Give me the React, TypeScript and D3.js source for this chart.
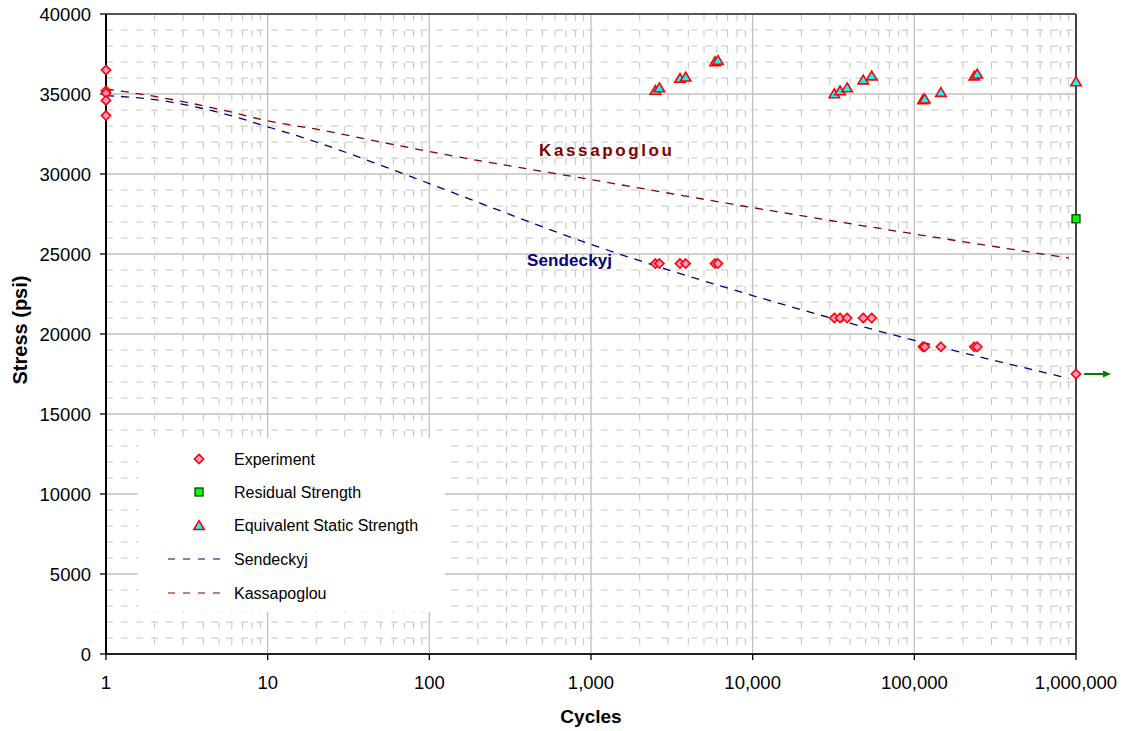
import React from "react";
import * as d3 from "d3";

// Fatigue test results: cycles to failure vs. max stress
const expCycles = [1, 1, 1, 1, 1, 2500, 2650, 3550, 3850, 5850, 6100, 32000, 34700, 38400, 48300, 54500, 113000, 116000, 146000, 235000, 245000, 1000000];
const expStress = [36500, 35200, 35050, 34600, 33650, 24400, 24400, 24400, 24400, 24400, 24400, 21000, 21000, 21000, 21000, 21000, 19200, 19200, 19200, 19200, 19200, 17500];

const residualCycles = [1000000];
const residualStress = [27200];

const staticCycles = [2500, 2650, 3550, 3850, 5850, 6100, 32000, 34700, 38400, 48300, 54500, 113000, 116000, 146000, 235000, 245000, 1000000];
const staticStress = [35230, 35390, 35980, 36060, 37020, 37100, 35020, 35200, 35390, 35880, 36130, 34650, 34690, 35100, 36130, 36250, 35770];

// Model curves
const modelCycles = [1, 2, 5, 10, 20, 50, 100, 1000, 10000, 100000, 900000];
const sendeckyjStress = [34900, 34650, 33850, 32950, 32000, 30550, 29400, 25600, 22400, 19600, 17230];
const kassapoglouStress = [35320, 34850, 34050, 33320, 32800, 32000, 31400, 29650, 27900, 26250, 24750];

const xTickValues = [1, 10, 100, 1000, 10000, 100000, 1000000];
const yTickValues = [0, 5000, 10000, 15000, 20000, 25000, 30000, 35000, 40000];

const legendItems = ["Experiment", "Residual Strength", "Equivalent Static Strength", "Sendeckyj", "Kassapoglou"];

const FONT = "'Liberation Sans', Arial, sans-serif";

const W = 1125;
const H = 731;
const M = { left: 106, right: 1076, top: 14, bottom: 654 };

const x = d3.scaleLog().domain([1, 1e6]).range([M.left, M.right]);
const y = d3.scaleLinear().domain([0, 40000]).range([M.bottom, M.top]);

const diamond = (r: number) => `M0,${-r}L${r},0L0,${r}L${-r},0Z`;
const triangle = "M0,-4.8L5.2,4L-5.2,4Z";

const Diamond = ({ cx, cy }: { cx: number; cy: number }) => (
  <path d={diamond(4.6)} transform={`translate(${cx},${cy})`} fill="#ff99cc" stroke="#ff0000" strokeWidth={1.6} />
);
const Triangle = ({ cx, cy }: { cx: number; cy: number }) => (
  <path d={triangle} transform={`translate(${cx},${cy})`} fill="#00ffff" stroke="#ff0000" strokeWidth={1.6} strokeLinejoin="miter" />
);
const Square = ({ cx, cy }: { cx: number; cy: number }) => (
  <rect x={cx - 4} y={cy - 4} width={8} height={8} fill="#00ff00" stroke="#003300" strokeWidth={1.2} />
);

export default function App() {
  // minor vertical grid: 2..9 in each decade
  const minorX: number[] = [];
  for (let d = 0; d < 6; d++) for (let k = 2; k <= 9; k++) minorX.push(k * Math.pow(10, d));
  const minorY = d3.range(1000, 40000, 1000).filter((v) => v % 5000 !== 0);

  const line = d3
    .line<[number, number]>()
    .x((d) => x(d[0]))
    .y((d) => y(d[1]))
    .curve(d3.curveMonotoneX);

  const sendPts = modelCycles.map((c, i) => [c, sendeckyjStress[i]] as [number, number]);
  const kassPts = modelCycles.map((c, i) => [c, kassapoglouStress[i]] as [number, number]);

  const fmt = d3.format(",");

  const runout = { cx: x(1e6), cy: y(expStress[expStress.length - 1]) };

  const legendX = 199;
  const legendRows = [459, 492, 525, 559, 593];

  return (
    <svg width={W} height={H} style={{ position: "absolute", left: 0, top: 0, background: "#fff" }} fontFamily={FONT}>
      {/* minor grid */}
      <g stroke="#c4c4c4" strokeWidth={1}>
        {minorY.map((v) => (
          <line key={"my" + v} x1={M.left} x2={M.right} y1={y(v)} y2={y(v)} strokeDasharray="7,8" />
        ))}
        {minorX.map((v) => (
          <line key={"mx" + v} x1={x(v)} x2={x(v)} y1={M.top} y2={M.bottom} strokeDasharray="7,9" />
        ))}
      </g>
      {/* major grid */}
      <g stroke="#c0c0c0" strokeWidth={1.3}>
        {yTickValues.map((v) => (
          <line key={"gy" + v} x1={M.left} x2={M.right} y1={y(v)} y2={y(v)} />
        ))}
        {xTickValues.map((v) => (
          <line key={"gx" + v} x1={x(v)} x2={x(v)} y1={M.top} y2={M.bottom} />
        ))}
      </g>

      {/* legend */}
      <rect x={138} y={438} width={307} height={174} fill="#fff" />
      <g fontSize={16} fill="#000">
        <Diamond cx={legendX} cy={legendRows[0]} />
        <Square cx={legendX} cy={legendRows[1]} />
        <Triangle cx={legendX} cy={legendRows[2] + 0.5} />
        <line x1={168} x2={224} y1={legendRows[3]} y2={legendRows[3]} stroke="#000080" strokeWidth={1.2} strokeDasharray="7,8" />
        <line x1={168} x2={224} y1={legendRows[4]} y2={legendRows[4]} stroke="#800000" strokeWidth={1.2} strokeDasharray="7,8" />
        {legendItems.map((t, i) => (
          <text key={t} x={234} y={legendRows[i] + 5.5}>
            {t}
          </text>
        ))}
      </g>

      {/* model curves */}
      <path d={line(kassPts) ?? ""} fill="none" stroke="#800000" strokeWidth={1.3} strokeDasharray="8,7" />
      <path d={line(sendPts) ?? ""} fill="none" stroke="#000080" strokeWidth={1.3} strokeDasharray="8,7" />

      {/* curve labels */}
      <text x={539} y={156} fontSize={17} fontWeight="bold" fill="#800000" textLength={133} lengthAdjust="spacing">
        Kassapoglou
      </text>
      <text x={527} y={266} fontSize={17} fontWeight="bold" fill="#000080" textLength={85} lengthAdjust="spacing">
        Sendeckyj
      </text>

      {/* axes frame */}
      <line x1={M.left} x2={M.right} y1={M.top} y2={M.top} stroke="#555" strokeWidth={2} />
      <line x1={M.right} x2={M.right} y1={M.top} y2={M.bottom} stroke="#444" strokeWidth={2} />
      <line x1={M.left} x2={M.left} y1={M.top} y2={M.bottom + 1} stroke="#000" strokeWidth={2} />
      <line x1={M.left - 1} x2={M.right} y1={M.bottom} y2={M.bottom} stroke="#222" strokeWidth={2} />

      {/* ticks */}
      <g stroke="#000" strokeWidth={1.3}>
        {yTickValues.map((v) => (
          <line key={"ty" + v} x1={M.left - 6} x2={M.left} y1={y(v)} y2={y(v)} />
        ))}
        {xTickValues.map((v) => (
          <line key={"tx" + v} x1={x(v)} x2={x(v)} y1={M.bottom} y2={M.bottom + 6} />
        ))}
      </g>
      <g fontSize={18.5} fill="#000">
        {yTickValues.map((v) => (
          <text key={"ly" + v} x={91} y={y(v) + 6.6} textAnchor="end">
            {v}
          </text>
        ))}
        {xTickValues.map((v) => (
          <text key={"lx" + v} x={x(v)} y={689} textAnchor="middle">
            {fmt(v)}
          </text>
        ))}
      </g>

      {/* axis titles */}
      <text x={591} y={723} textAnchor="middle" fontSize={19} fontWeight="bold">
        Cycles
      </text>
      <text transform="translate(27,330) rotate(-90)" textAnchor="middle" fontSize={20} fontWeight="bold">
        Stress (psi)
      </text>

      {/* run-out arrow */}
      <line x1={runout.cx + 8} x2={runout.cx + 28} y1={runout.cy} y2={runout.cy} stroke="#008000" strokeWidth={2} />
      <path d={`M${runout.cx + 35},${runout.cy}L${runout.cx + 27},${runout.cy - 3.5}L${runout.cx + 27},${runout.cy + 3.5}Z`} fill="#008000" />

      {/* data markers */}
      {staticCycles.map((c, i) => (
        <Triangle key={"s" + i} cx={x(c)} cy={y(staticStress[i])} />
      ))}
      {residualCycles.map((c, i) => (
        <Square key={"r" + i} cx={x(c)} cy={y(residualStress[i])} />
      ))}
      {expCycles.map((c, i) => (
        <Diamond key={"e" + i} cx={x(c)} cy={y(expStress[i])} />
      ))}
    </svg>
  );
}
